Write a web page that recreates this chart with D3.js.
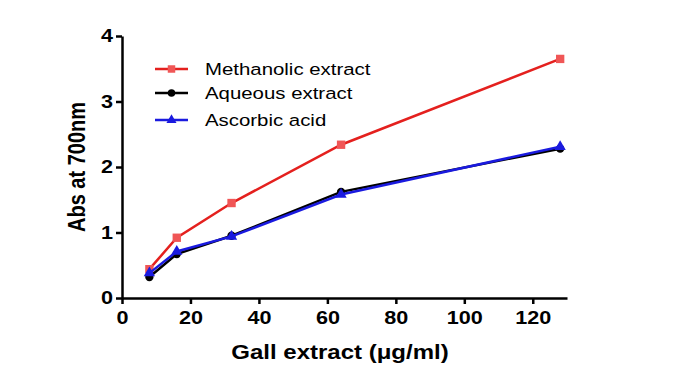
<!DOCTYPE html>
<html>
<head>
<meta charset="utf-8">
<script src="https://cdn.jsdelivr.net/npm/d3@7"></script>
<style>
  body { margin: 0; background: #fff; }
  text { font-family: "Liberation Sans", Arial, sans-serif; }
</style>
</head>
<body>
<div id="chart"></div>
<script>
const concentrations = [8, 16, 32, 64, 128];
const methanolic = [0.44, 0.92, 1.45, 2.34, 3.65];
const aqueous = [0.32, 0.67, 0.95, 1.62, 2.28];
const ascorbic = [0.38, 0.71, 0.94, 1.58, 2.31];
const xTicks = [0, 20, 40, 60, 80, 100, 120];
const yTicks = [0, 1, 2, 3, 4];

const series = [
    { name: "Methanolic extract", values: methanolic, line: "#e4201e", fill: "#f05656", shape: "square" },
    { name: "Aqueous extract", values: aqueous, line: "#000000", fill: "#000000", shape: "circle" },
    { name: "Ascorbic acid", values: ascorbic, line: "#1a1adf", fill: "#1a1adf", shape: "triangle" }
];

const width = 675, height = 375;
// the original picture is stretched sideways, so text gets a horizontal scale
const stretch = 1.2;

const svg = d3.select("#chart")
    .append("svg")
    .attr("width", width)
    .attr("height", height);

const x = d3.scaleLinear().domain([0, 130]).range([122, 567]);
const y = d3.scaleLinear().domain([0, 4]).range([298, 36]);

// axes
const xAxis = svg.append("g")
    .attr("transform", `translate(0,${y(0)})`)
    .call(d3.axisBottom(x).tickValues(xTicks).tickFormat(d3.format("d"))
        .tickSize(6).tickPadding(7).tickSizeOuter(0));
const yAxis = svg.append("g")
    .attr("transform", `translate(${x(0)},0)`)
    .call(d3.axisLeft(y).tickValues(yTicks).tickFormat(d3.format("d"))
        .tickSize(6).tickPadding(3).tickSizeOuter(0));

[xAxis, yAxis].forEach(g => {
    g.select(".domain").attr("stroke", "#000").attr("stroke-width", 2.5);
    g.selectAll(".tick line").attr("stroke", "#000").attr("stroke-width", 2.5);
    g.selectAll(".tick text")
        .attr("fill", "#000")
        .style("font-size", "18px")
        .style("font-weight", "bold")
        .style("font-family", "'Liberation Sans', Arial, sans-serif")
        .attr("transform", `scale(${stretch},1)`);
});
yAxis.selectAll(".tick text").attr("x", -9 / stretch);

svg.append("text")
    .attr("transform", `translate(340,359) scale(${stretch},1)`)
    .attr("text-anchor", "middle")
    .style("font-size", "20px")
    .style("font-weight", "bold")
    .text("Gall extract (\u03bcg/ml)");

svg.append("text")
    .attr("transform", `translate(85,167) rotate(-90) scale(1,${stretch})`)
    .attr("text-anchor", "middle")
    .style("font-size", "20px")
    .style("font-weight", "bold")
    .text("Abs at 700nm");

const symbolFor = s => s === "square" ? d3.symbolSquare : s === "circle" ? d3.symbolCircle : d3.symbolTriangle;
const sizeFor = s => s === "square" ? 70 : 55;

const line = d3.line()
    .x(d => x(d[0]))
    .y(d => y(d[1]));

series.forEach(s => {
    const pts = concentrations.map((c, i) => [c, s.values[i]]);
    const g = svg.append("g");
    g.append("path")
        .datum(pts)
        .attr("fill", "none")
        .attr("stroke", s.line)
        .attr("stroke-width", 2.5)
        .attr("d", line);
    g.selectAll("path.pt")
        .data(pts)
        .enter().append("path")
        .attr("class", "pt")
        .attr("transform", d => `translate(${x(d[0])},${y(d[1])})`)
        .attr("d", d3.symbol().type(symbolFor(s.shape)).size(sizeFor(s.shape)))
        .attr("fill", s.fill);
});

// legend
const legend = svg.append("g").attr("transform", "translate(155,69)");
const rows = legend.selectAll("g")
    .data(series)
    .enter().append("g")
    .attr("transform", (d, i) => `translate(0,${[0, 24, 51][i]})`);
rows.append("line")
    .attr("x1", 0).attr("x2", 33)
    .attr("stroke", d => d.line)
    .attr("stroke-width", 2.5);
rows.append("path")
    .attr("transform", "translate(16.5,0)")
    .attr("d", d => d3.symbol().type(symbolFor(d.shape)).size(sizeFor(d.shape) * 0.8)())
    .attr("fill", d => d.fill);
rows.append("text")
    .attr("transform", `translate(50,0) scale(${stretch},1)`)
    .attr("dy", "0.35em")
    .style("font-size", "17px")
    .attr("fill", "#000")
    .text(d => d.name);
</script>
</body>
</html>
